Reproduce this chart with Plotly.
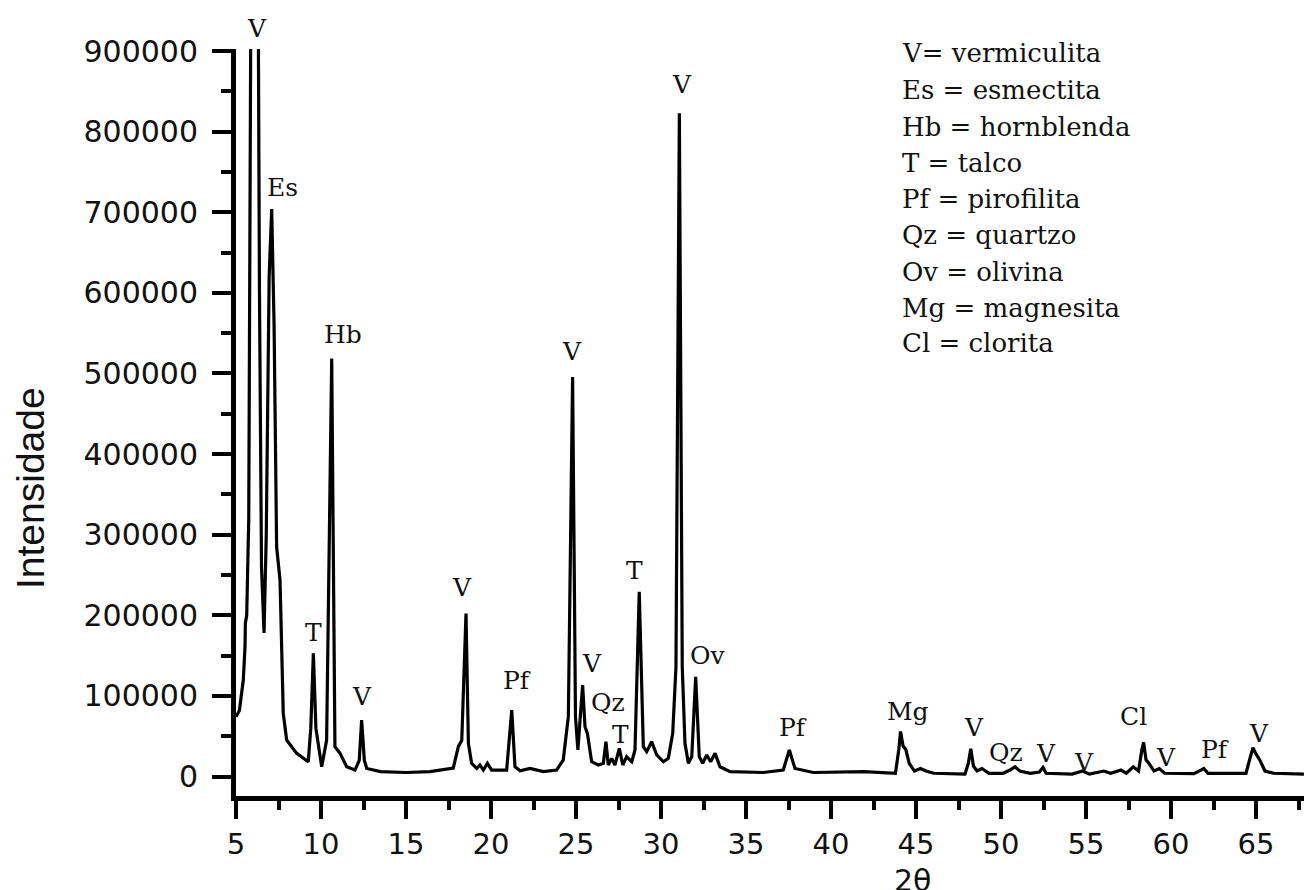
import plotly.graph_objects as go

# Difractograma de raios X: 2θ (graus) x intensidade (contagens)
two_theta = [
    5.00, 5.20, 5.43, 5.53, 5.55, 5.63, 5.75, 5.82, 5.90, 6.10, 6.28, 6.38, 6.50, 6.65,
    6.78, 6.95, 7.10, 7.24, 7.39, 7.59, 7.69, 7.78, 7.98, 8.57, 9.25, 9.40, 9.55, 9.70,
    10.04, 10.33, 10.63, 10.82, 11.12, 11.51, 12.00, 12.25, 12.39, 12.55, 12.69, 13.5,
    15.0, 16.41, 17.78, 18.08, 18.28, 18.53, 18.67, 18.86, 19.16, 19.35, 19.55, 19.79,
    20.04, 20.92, 21.22, 21.41, 21.71, 22.29, 23.08, 23.86, 24.25, 24.55, 24.80, 24.97,
    25.11, 25.39, 25.53, 25.67, 25.92, 26.31, 26.61, 26.76, 26.90, 27.10, 27.29, 27.55,
    27.75, 27.98, 28.28, 28.47, 28.72, 28.96, 29.16, 29.45, 29.75, 30.14, 30.43, 30.69,
    30.88, 31.08, 31.25, 31.41, 31.61, 31.81, 32.04, 32.25, 32.45, 32.69, 32.92, 33.18,
    33.47, 34.06, 36.02, 37.19, 37.55, 37.88, 38.96, 41.94, 43.79, 43.99, 44.09, 44.24,
    44.40, 44.60, 44.91, 45.26, 45.59, 46.04, 47.88, 48.08, 48.22, 48.38, 48.59, 48.88,
    49.29, 50.12, 50.53, 50.82, 51.11, 51.72, 52.26, 52.47, 52.65, 54.19, 54.80, 55.20,
    56.05, 56.45, 57.06, 57.37, 57.78, 58.09, 58.29, 58.39, 58.53, 58.70, 59.00, 59.31,
    59.62, 61.35, 61.76, 61.93, 62.18, 64.41, 64.62, 64.82, 64.98, 65.22, 65.53, 66.05,
    67.82,
]
intensity = [
    74000, 82000, 120000, 161000, 190000, 200000, 320000, 600000, 1100000, 1300000, 1100000, 600000, 260000, 178000,
    300000, 620000, 704000, 560000, 284900, 243600, 160900, 78300, 45200, 28700, 18300, 60000, 152700, 60000,
    12100, 45000, 518400, 37000, 28700, 12100, 8000, 20000, 70000, 20000, 10000, 6000,
    5000, 6000, 10500, 37000, 45000, 202300, 41000, 16400, 10100, 14300, 8000, 16400,
    8000, 8000, 82400, 12100, 7200, 10000, 6000, 8000, 20500, 74100, 495700, 74100,
    32900, 113400, 61700, 53500, 18300, 14300, 16400, 43200, 14300, 22500, 14300, 35000,
    14300, 24600, 18300, 32900, 229100, 37000, 30800, 43200, 26700, 18300, 22500, 53500,
    136100, 822800, 136100, 41100, 16400, 24600, 123700, 24600, 16400, 26700, 18300, 28700,
    12100, 6000, 5000, 8000, 32900, 10000, 5000, 6000, 4000, 33600, 55900, 37800,
    33600, 16400, 6800, 9900, 6800, 4000, 3000, 16400, 34400, 13000, 6800, 9900,
    4000, 4000, 8000, 12000, 6800, 4000, 5500, 11200, 4000, 3000, 6800, 3000,
    6800, 4000, 8000, 4000, 12000, 6800, 33600, 42200, 20600, 16400, 6800, 9900,
    4000, 3500, 8000, 9900, 4000, 4000, 20600, 35700, 28700, 20600, 6800, 4000,
    3000,
]

# Identificação das fases sobre os picos
peak_tags = ["Es", "Hb", "T", "V", "V", "Pf", "V", "V", "Qz", "T", "T", "V", "Ov", "Pf",
             "Mg", "V", "Qz", "V", "V", "Cl", "V", "Pf", "V"]
peak_tag_x = [7.75, 11.29, 9.53, 12.44, 18.28, 21.51, 24.75, 25.92, 26.88, 27.59, 28.47, 31.22, 32.74, 37.74,
              44.51, 48.41, 50.32, 52.62, 54.87, 57.78, 59.71, 62.58, 65.18]
peak_tag_y = [731200, 548600, 178500, 98900, 234300, 118600, 527800, 140700, 91700, 52700, 255000, 858500, 150600, 60700,
              81200, 60500, 30400, 28100, 17400, 74400, 24200, 33500, 53900]
# rótulo do pico de 6,2° (acima do limite do eixo)
top_tag = "V"
top_tag_x = 6.22

legend_lines = [
    "V= vermiculita", "Es = esmectita", "Hb = hornblenda", "T = talco", "Pf = pirofilita",
    "Qz = quartzo", "Ov = olivina", "Mg = magnesita", "Cl = clorita",
]

W, H = 1304, 890
L, T, B = 236, 49, 94
plot_w, plot_h = W - L, H - T - B


def px_x(p):
    return (p - L) / plot_w


def px_y(p):
    return (H - B - p) / plot_h


fig = go.Figure()
fig.add_trace(go.Scatter(
    x=two_theta, y=intensity, mode="lines",
    line=dict(color="black", width=3.2, shape="linear"),
    hoverinfo="skip", showlegend=False,
))

serif = "DejaVu Serif"
annotations = []
for t, x, y in zip(peak_tags, peak_tag_x, peak_tag_y):
    annotations.append(dict(x=x, y=y, xref="x", yref="y", text=t, showarrow=False,
                            font=dict(family=serif, size=25, color="#111"),
                            xanchor="center", yanchor="middle"))
annotations.append(dict(x=top_tag_x, y=px_y(29), xref="x", yref="paper", text=top_tag,
                        showarrow=False, font=dict(family=serif, size=25, color="#111"),
                        xanchor="center", yanchor="middle"))

legend_y_px = [53, 90, 127, 163, 199, 235, 272, 308, 343]
for line, yp in zip(legend_lines, legend_y_px):
    annotations.append(dict(x=px_x(900), y=px_y(yp), xref="paper", yref="paper", text=line,
                            showarrow=False, font=dict(family=serif, size=26, color="#111"),
                            xanchor="left", yanchor="middle"))

annotations.append(dict(x=px_x(30), y=px_y(488), xref="paper", yref="paper", text="Intensidade",
                        textangle=-90, showarrow=False,
                        font=dict(family="Liberation Sans", size=39, color="#111"),
                        xanchor="center", yanchor="middle"))
annotations.append(dict(x=px_x(912), y=px_y(861), xref="paper", yref="paper", text="2θ",
                        showarrow=False, font=dict(family="DejaVu Sans", size=30, color="#111"),
                        xanchor="center", yanchor="top"))

fig.update_layout(
    width=W, height=H,
    margin=dict(l=L, r=0, t=T, b=B, pad=0),
    paper_bgcolor="white", plot_bgcolor="white",
    annotations=annotations,
    xaxis=dict(
        range=[5, 5 + plot_w / 17.0], tick0=5, dtick=5,
        showline=True, linecolor="black", linewidth=5,
        ticks="outside", ticklen=18, tickwidth=4, tickcolor="black",
        minor=dict(ticks="outside", dtick=2.5, tick0=5, ticklen=9, tickwidth=4, tickcolor="black"),
        showgrid=False, zeroline=False, ticklabelstandoff=0,
        tickfont=dict(family="DejaVu Sans", size=29, color="#111"),
    ),
    yaxis=dict(
        range=[-24180, 902480], tick0=0, dtick=100000, tickformat="d",
        showline=True, linecolor="black", linewidth=5,
        ticks="outside", ticklen=19, tickwidth=4, tickcolor="black",
        minor=dict(ticks="outside", dtick=50000, tick0=0, ticklen=10, tickwidth=4, tickcolor="black"),
        showgrid=False, zeroline=False, ticklabelstandoff=8,
        tickfont=dict(family="DejaVu Sans", size=30, color="#111"),
    ),
)

fig.write_html("out.html")
